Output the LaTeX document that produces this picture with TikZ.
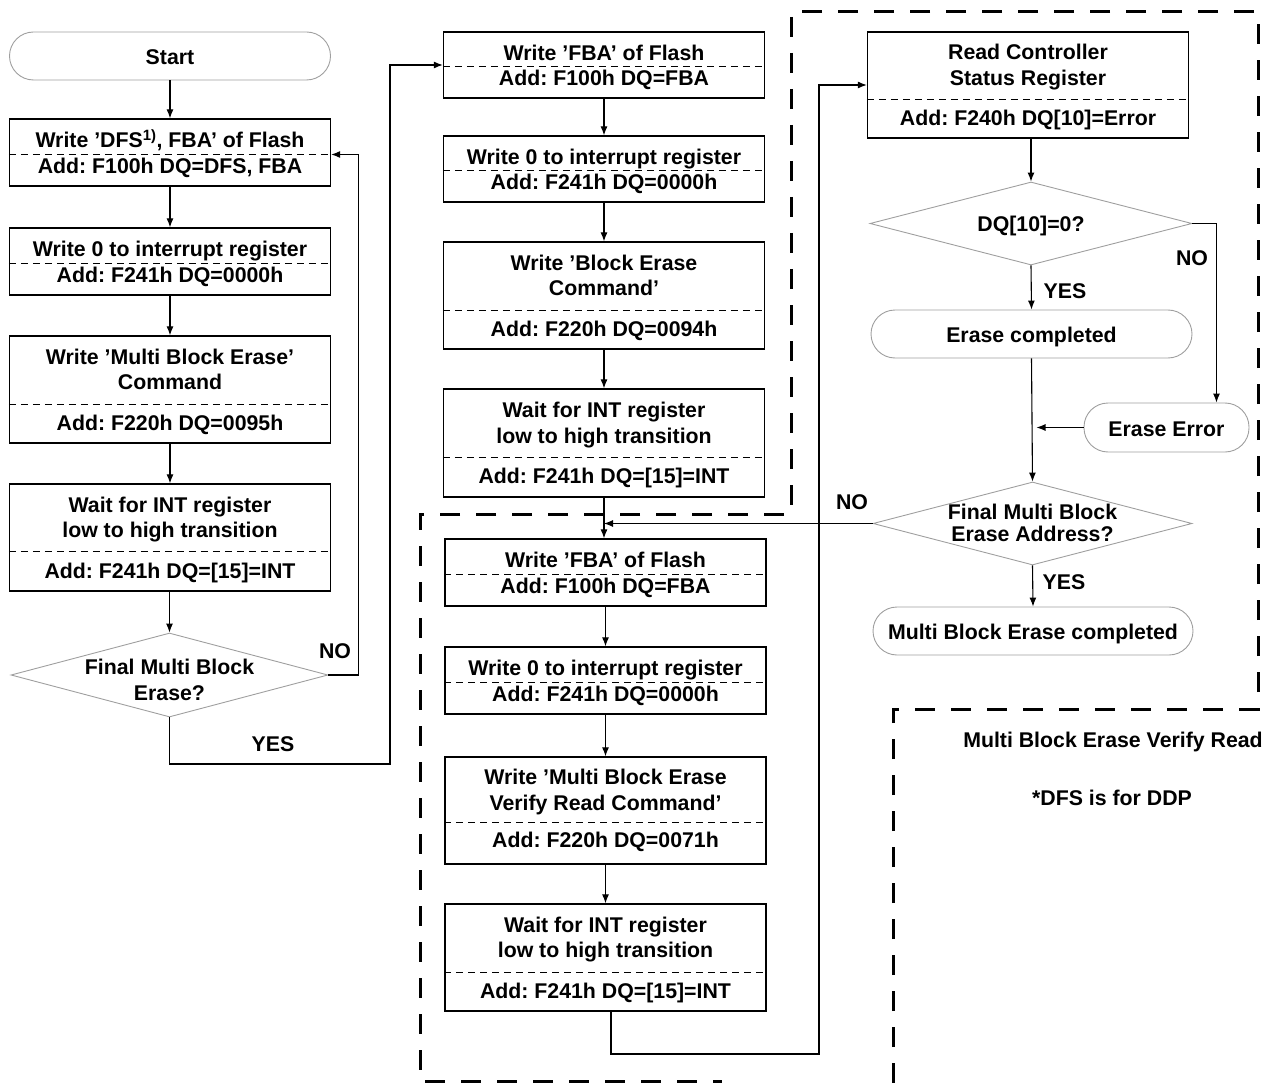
\documentclass[tikz,border=0pt]{standalone}
\usepackage{fontspec}
\setmainfont{Liberation Sans}
\frenchspacing
\usetikzlibrary{arrows.meta,shapes.geometric}

\newcommand{\boxstrut}{\rule{0pt}{20pt}}

\tikzset{
	box/.style={shape=rectangle,draw=black,line width=1.3pt,minimum width=321pt,align=center,inner sep=0pt},
	term/.style={shape=rectangle,rounded corners=24pt,draw=gray!75,line width=0.9pt,minimum height=48pt,text height=17pt,text depth=0pt},
	decision/.style={shape=diamond,draw=gray!75,line width=0.9pt,inner sep=0pt},
	splitline/.style={dash pattern=on 7pt off 5pt,line width=0.8pt},
	arr/.style={-{Latex[length=9pt,width=7pt]},line width=1.1pt},
	region/.style={dash pattern=on 20pt off 16pt,line width=3pt},
}

\begin{document}
\begin{tikzpicture}[x=1pt,y=-1pt,font=\fontsize{21.3}{25.5}\selectfont\bfseries]
	\useasboundingbox (0,0) rectangle (1274,1083);

	% left column
	\node[term,minimum width=321pt] (start) at (170,56) {Start};
	\node[box,minimum height=67pt] (b1) at (170,152.5) {\boxstrut Write ’DFS\textsuperscript{1)}, FBA’ of Flash\\Add: F100h DQ=DFS, FBA};
	\node[box,minimum height=67pt] (b2) at (170,261.5) {\boxstrut Write 0 to interrupt register\\Add: F241h DQ=0000h};
	\node[box,minimum height=107pt] (b3) at (170,389.5) {\boxstrut Write ’Multi Block Erase’\\Command\\[15pt]Add: F220h DQ=0095h};
	\node[box,minimum height=107pt] (b4) at (170,537.5) {\boxstrut Wait for INT register\\low to high transition\\[15pt]Add: F241h DQ=[15]=INT};
	\node[decision,minimum width=317pt,minimum height=84pt] (d1) at (169.5,675) {};
	\node[align=center,yshift=-5pt] (d1txt) at (d1) {Final Multi Block\\Erase?};

	% middle column, erase
	\node[box,minimum height=66pt] (m1) at (604,65) {\boxstrut Write ’FBA’ of Flash\\Add: F100h DQ=FBA};
	\node[box,minimum height=66pt] (m2) at (604,169) {\boxstrut Write 0 to interrupt register\\Add: F241h DQ=0000h};
	\node[box,minimum height=107pt] (m3) at (604,295.5) {\boxstrut Write ’Block Erase\\Command’\\[15pt]Add: F220h DQ=0094h};
	\node[box,minimum height=108pt] (m4) at (604,443) {\boxstrut Wait for INT register\\low to high transition\\[15pt]Add: F241h DQ=[15]=INT};

	% middle column, verify read
	\node[box,minimum height=67pt] (l1) at (605.5,572.5) {\boxstrut Write ’FBA’ of Flash\\Add: F100h DQ=FBA};
	\node[box,minimum height=67pt] (l2) at (605.5,680.5) {\boxstrut Write 0 to interrupt register\\Add: F241h DQ=0000h};
	\node[box,minimum height=107pt] (l3) at (605.5,810.5) {Write ’Multi Block Erase\\Verify Read Command’\\[12pt]Add: F220h DQ=0071h};
	\node[box,minimum height=107pt] (l4) at (605.5,957.5) {\boxstrut Wait for INT register\\low to high transition\\[15pt]Add: F241h DQ=[15]=INT};

	% right column
	\node[box,minimum height=106pt] (r1) at (1028,85) {\boxstrut Read Controller\\Status Register\\[15pt]Add: F240h DQ[10]=Error};
	\node[decision,minimum width=322pt,minimum height=83pt] (d2) at (1031,223.5) {};
	\node[yshift=-2pt] (d2txt) at (d2) {DQ[10]=0?};
	\node[term,minimum width=321pt] (ec) at (1031.5,334) {Erase completed};
	\node[term,minimum width=165pt,minimum height=49pt] (ee) at (1166.5,427.5) {Erase Error};
	\node[decision,minimum width=319pt,minimum height=83pt] (d3) at (1032.5,523.5) {};
	\node[align=center,yshift=0.5pt,font=\fontsize{21.3}{22}\selectfont\bfseries] (d3txt) at (d3) {Final Multi Block\\Erase Address?};
	\node[term,minimum width=320pt] (mbec) at (1033,631) {Multi Block Erase completed};

	% labels
	\node (no1) at (335,651) {NO};
	\node (yes1) at (273,744) {YES};
	\node (no2) at (1192,258) {NO};
	\node (yes2) at (1065,291) {YES};
	\node (no3) at (852,502) {NO};
	\node (yes3) at (1064,582) {YES};
	\node (vrtitle) at (1113,742) {Multi Block Erase Verify Read};
	\node (dfsnote) at (1112,798) {*DFS is for DDP};

	% split lines
	\draw[splitline] ([yshift=-1.5pt]b1.west) -- ([yshift=-1.5pt]b1.east);
	\draw[splitline] ([yshift=-1.5pt]b2.west) -- ([yshift=-1.5pt]b2.east);
	\draw[splitline] ([yshift=-14.5pt]b3.west) -- ([yshift=-14.5pt]b3.east);
	\draw[splitline] ([yshift=-13.5pt]b4.west) -- ([yshift=-13.5pt]b4.east);
	\draw[splitline] ([yshift=-1pt]m1.west) -- ([yshift=-1pt]m1.east);
	\draw[splitline] ([yshift=-1pt]m2.west) -- ([yshift=-1pt]m2.east);
	\draw[splitline] ([yshift=-14.5pt]m3.west) -- ([yshift=-14.5pt]m3.east);
	\draw[splitline] ([yshift=-14pt]m4.west) -- ([yshift=-14pt]m4.east);
	\draw[splitline] ([yshift=-1.5pt]l1.west) -- ([yshift=-1.5pt]l1.east);
	\draw[splitline] ([yshift=-1.5pt]l2.west) -- ([yshift=-1.5pt]l2.east);
	\draw[splitline] ([yshift=-11.5pt]l3.west) -- ([yshift=-11.5pt]l3.east);
	\draw[splitline] ([yshift=-14.5pt]l4.west) -- ([yshift=-14.5pt]l4.east);
	\draw[splitline] ([yshift=-14pt]r1.west) -- ([yshift=-14pt]r1.east);

	% connectors
	\coordinate (yesturn) at (390,764);
	\coordinate (loopturn) at (819,1054);
	\draw[arr] (start.south) -- (b1.north);
	\draw[arr] (b1.south) -- (b2.north);
	\draw[arr] (b2.south) -- (b3.north);
	\draw[arr] (b3.south) -- (b4.north);
	\draw[arr] (d1.north |- b4.south) -- (d1.north);
	\draw[arr] (d1.east) -| ([xshift=27pt,yshift=-2pt]b1.east) -- ([yshift=-2pt]b1.east);
	\draw[arr] (d1.south) |- (yesturn) |- (m1.west);
	\draw[arr] (m1.south) -- (m2.north);
	\draw[arr] (m2.south) -- (m3.north);
	\draw[arr] (m3.south) -- (m4.north);
	\draw[arr] (m4.south) -- (m4.south |- l1.north);
	\draw[arr] (l1.south) -- (l2.north);
	\draw[arr] (l2.south) -- (l3.north);
	\draw[arr] (l3.south) -- (l4.north);
	\draw[arr] ([xshift=5.5pt]l4.south) |- (loopturn) |- (r1.west);
	\draw[arr] (d2.north |- r1.south) -- (d2.north);
	\draw[arr] (d2.south) -- (ec.north);
	\draw[arr] (d2.east) -| ([xshift=50pt]ee.north);
	\draw[arr] (ec.south) -- (d3.north);
	\draw[arr] (ee.west) -- ([xshift=5pt]ec.south |- ee.west);
	\draw[arr] (d3.west) -- (m4.south |- d3.west);
	\draw[arr] (d3.south) -- (mbec.north);

	% verify read region
	\draw[region] (893,1083) -- (893,709) -- (1258,709) -- (1258,12) -- (791,12) -- (791,514) -- (420,514) -- (420,1081) -- (722,1081);
\end{tikzpicture}
\end{document}
